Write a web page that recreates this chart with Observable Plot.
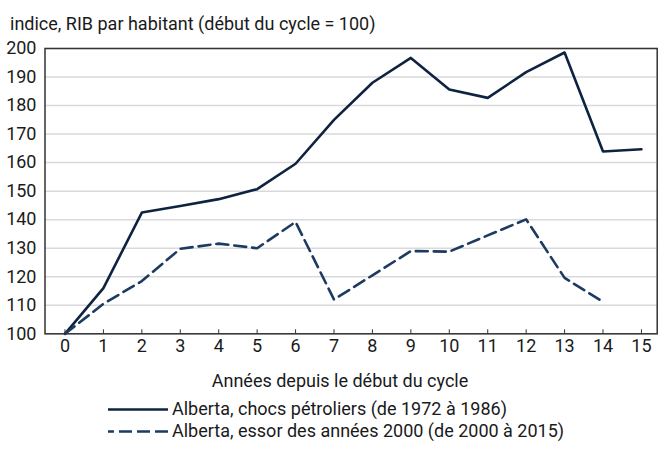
<!DOCTYPE html>
<html>
<head>
<meta charset="utf-8">
<script src="https://cdn.jsdelivr.net/npm/d3@7"></script>
<script src="https://cdn.jsdelivr.net/npm/@observablehq/plot@0.6"></script>
<style>
  html, body { margin: 0; padding: 0; background: #fff; }
  #wrap { position: relative; width: 658px; height: 454px; overflow: hidden;
          font-family: "Liberation Sans Narrow", "Arial Narrow", "Roboto", sans-serif; font-size: 18px; color: #1a1a1a; }
  #wrap svg.plot { position: absolute; left: 0; top: 0; }
  .abs { position: absolute; line-height: 18px; white-space: nowrap; }
  .leg { position: absolute; left: 108px; display: flex; align-items: center; white-space: nowrap; line-height: 18px; }
  .leg svg { margin-right: 4px; }
</style>
</head>
<body>
<div id="wrap">
  <div class="abs" id="title" style="left:10px; top:15px;"></div>
  <div class="abs" id="xlabel" style="left:0; width:680px; text-align:center; top:372px;"></div>
  <div id="legend"></div>
</div>
<script>
const titleText = "indice, RIB par habitant (début du cycle = 100)";
const xLabelText = "Années depuis le début du cycle";
const seriesNames = ["Alberta, chocs pétroliers (de 1972 à 1986)", "Alberta, essor des années 2000 (de 2000 à 2015)"];
const years = [0,1,2,3,4,5,6,7,8,9,10,11,12,13,14,15];
const chocs = [100, 116, 142.5, 144.8, 147.2, 150.7, 159.6, 175, 188, 196.7, 185.6, 182.7, 191.7, 198.6, 163.9, 164.7];
const essor = [100, 110.5, 118.5, 129.8, 131.6, 130, 139.2, 112, 120.5, 129, 128.8, 134.5, 140.1, 119.6, 111.2];
const yTicks = [100,110,120,130,140,150,160,170,180,190,200];
const colors = ["#0e2340", "#1d3a60"];
const dashes = [null, "12,6"];

const data = [];
chocs.forEach((v, i) => data.push({year: years[i], value: v, series: seriesNames[0]}));
essor.forEach((v, i) => data.push({year: years[i], value: v, series: seriesNames[1]}));

document.getElementById("title").textContent = titleText;
document.getElementById("xlabel").textContent = xLabelText;

const chart = Plot.plot({
  width: 658,
  height: 454,
  marginLeft: 44.5,
  marginRight: 1.3,
  marginTop: 48,
  marginBottom: 120.7,
  style: {fontFamily: '"Liberation Sans Narrow", "Arial Narrow", Roboto, sans-serif', fontSize: "18px", color: "#1a1a1a", background: "#fff"},
  x: {domain: [-0.52, 15.41]},
  y: {domain: [100, 200]},
  marks: [
    Plot.gridY(yTicks, {stroke: "#d9d9d9", strokeOpacity: 1, strokeWidth: 1.5}),
    Plot.axisY(yTicks, {tickSize: 0, tickPadding: 8.5, label: null, tickFormat: d => String(d)}),
    Plot.axisX(years, {tickSize: -4, tickPadding: 9, label: null, tickFormat: d => String(d), stroke: "#333"}),
    Plot.line(data.filter(d => d.series === seriesNames[0]), {x: "year", y: "value", stroke: colors[0], strokeWidth: 2.6}),
    Plot.line(data.filter(d => d.series === seriesNames[1]), {x: "year", y: "value", stroke: colors[1], strokeWidth: 2.6, strokeDasharray: dashes[1]}),
    Plot.frame({stroke: "#333", strokeWidth: 1.5})
  ]
});
chart.classList.add("plot");
document.getElementById("wrap").insertBefore(chart, document.getElementById("wrap").firstChild);

const legend = document.getElementById("legend");
const legTops = [400, 422];
seriesNames.forEach((name, i) => {
  const row = document.createElement("div");
  row.className = "leg";
  row.style.top = legTops[i] + "px";
  const sw = d3.create("svg").attr("width", 60).attr("height", 18);
  sw.append("line").attr("x1", 0).attr("x2", 60).attr("y1", 9.5).attr("y2", 9.5)
    .attr("stroke", colors[i]).attr("stroke-width", 2.6)
    .attr("stroke-dasharray", dashes[i] ? "13,5" : null)
    .attr("stroke-dashoffset", dashes[i] ? 7 : null);
  row.appendChild(sw.node());
  const t = document.createElement("span");
  t.textContent = name;
  row.appendChild(t);
  legend.appendChild(row);
});
</script>
</body>
</html>
